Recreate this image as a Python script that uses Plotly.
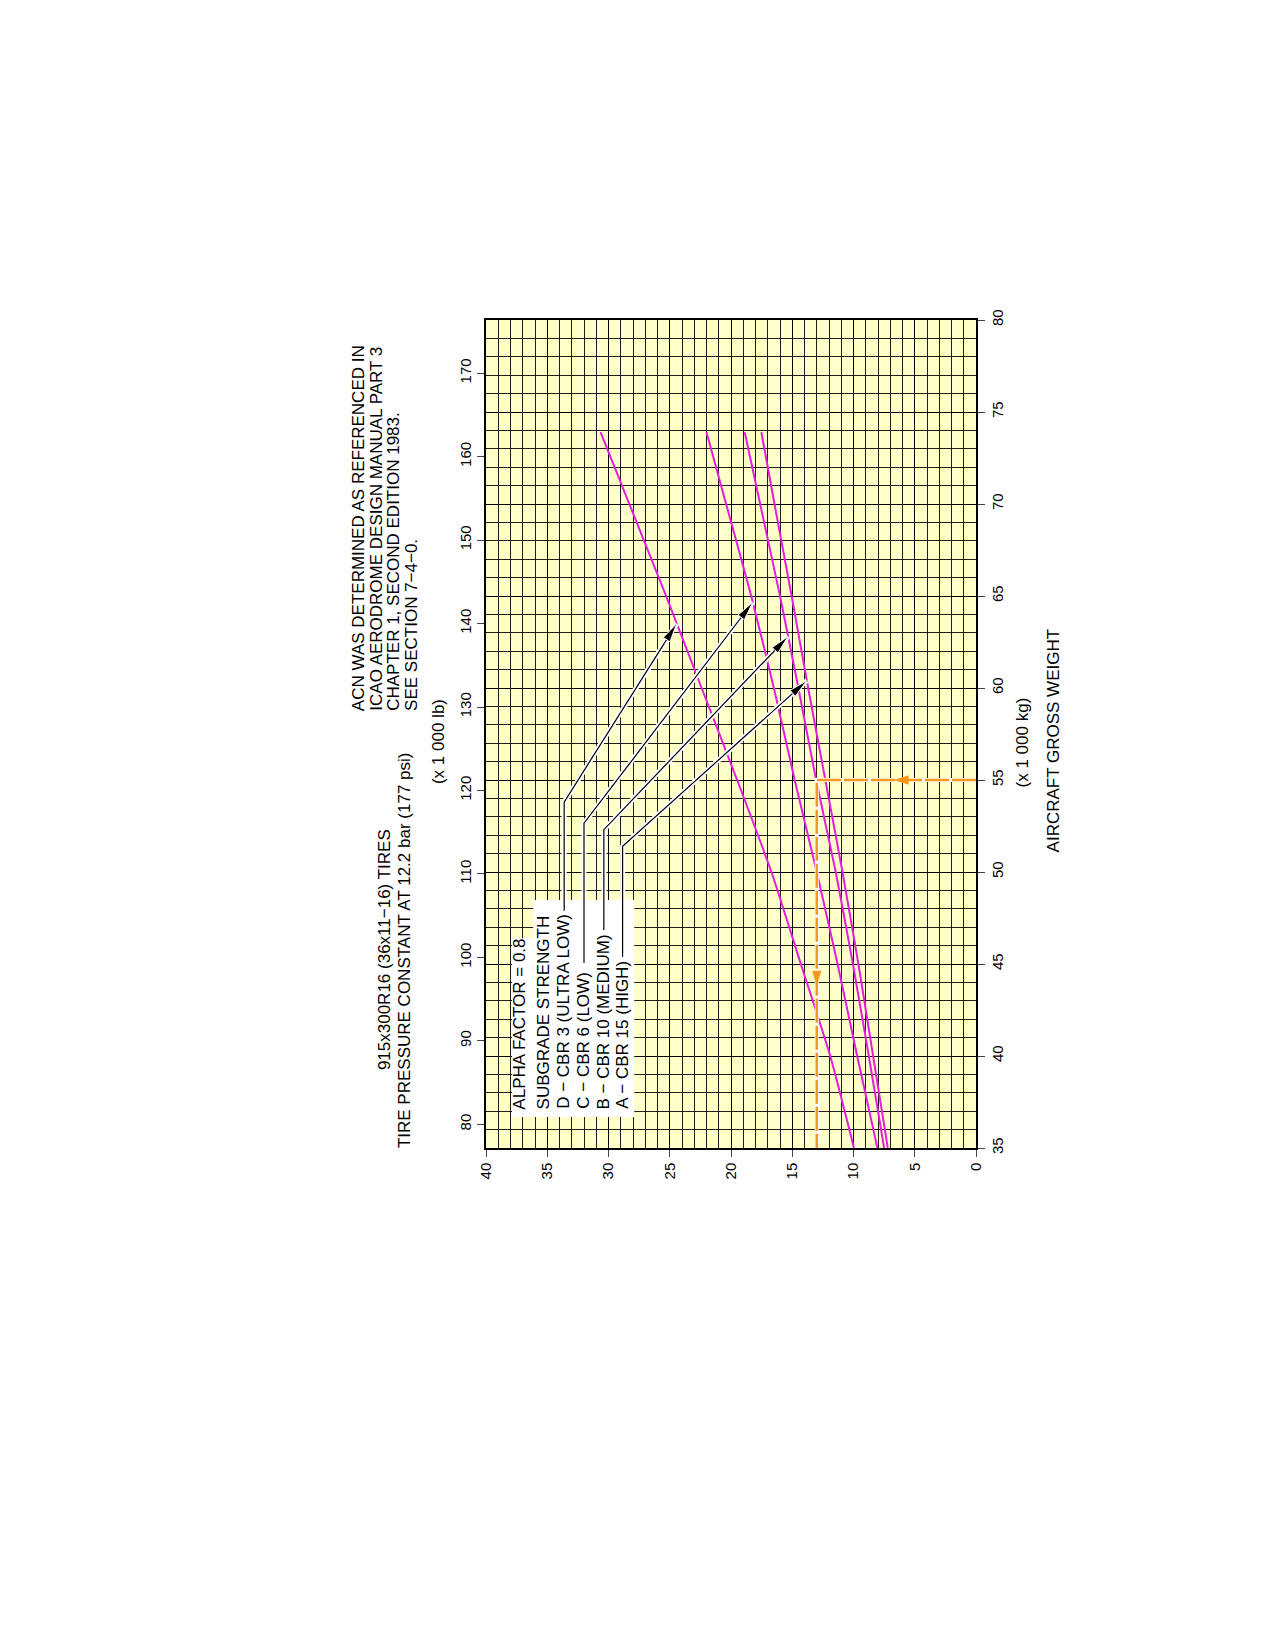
import math
import numpy as np
import plotly.graph_objects as go

# ACN vs aircraft gross weight (x 1 000 kg)
weight_kg = [35, 40, 45, 50, 55, 60, 65, 70, 73.9]
acn_d = [9.96, 11.9, 14.3, 16.7, 19.5, 22.4, 25.3, 28.3, 30.65]
acn_c = [8.05, 9.7, 11.3, 13.0, 14.8, 16.5, 18.35, 20.4, 22.0]
acn_b = [7.5, 8.75, 10.05, 11.45, 13.05, 14.5, 16.0, 17.62, 18.88]
acn_a = [7.2, 8.4, 9.6, 10.9, 12.3, 13.7, 15.05, 16.45, 17.52]

# worked example: 55 000 kg -> ACN 13
example_kg = [55, 55, 35]
example_acn = [0, 13, 13]

acn_ticks = list(range(0, 41, 5))
kg_ticks = list(range(35, 81, 5))
lb_ticks = list(range(80, 171, 10))
KG_TO_LB = 2.20462

legend_lines = ["ALPHA FACTOR = 0.8", "SUBGRADE STRENGTH",
                "D \u2212 CBR 3 (ULTRA LOW)", "C \u2212 CBR 6 (LOW)",
                "B \u2212 CBR 10 (MEDIUM)", "A \u2212 CBR 15 (HIGH)"]
note_lines = ["ACN WAS DETERMINED AS REFERENCED IN",
              "ICAO AERODROME DESIGN MANUAL PART 3",
              "CHAPTER 1, SECOND EDITION 1983.",
              "SEE SECTION 7\u22124\u22120."]
tire_lines = ["915x300R16 (36x11\u221216) TIRES",
              "TIRE PRESSURE CONSTANT AT 12.2 bar (177 psi)"]

# where each leader starts (end of its label), bends, and meets its curve (kg)
leader_start = [47.9, 45.05, 46.85, 45.4]
leader_bend = [53.8, 52.65, 52.3, 51.4]
leader_tip = [63.5, 64.66, 62.8, 60.4]

#%% geometry
L0, T0, PW, PH = 486, 320, 490.5, 828
BODY = 8   # page margin of the browser
PX_A = PW / 40
PX_W = PH / 45
MAGENTA = "#E41EE0"
ORANGE = "#F7981D"
FONT = "Liberation Sans, Arial, Helvetica, sans-serif"
TXT = 17


def paper(x, y):
    return (x - L0) / PW, (T0 + PH - y) / PH


def arrowhead(tip, tail, length, width, color, edge="white"):
    tx, ty = -tip[0] * PX_A, -tip[1] * PX_W
    fx, fy = -tail[0] * PX_A, -tail[1] * PX_W
    dx, dy = tx - fx, ty - fy
    n = math.hypot(dx, dy)
    ux, uy = dx / n, dy / n
    bx, by = tx - ux * length, ty - uy * length
    pts = [(tx, ty), (bx - uy * width / 2, by + ux * width / 2),
           (bx + uy * width / 2, by - ux * width / 2)]
    path = "M " + " L ".join(f"{-x / PX_A:.4f},{-y / PX_W:.4f}" for x, y in pts) + " Z"
    return dict(type="path", path=path, xref="x", yref="y", fillcolor=color,
                line=dict(color=edge, width=1), layer="above")


fig = go.Figure()

for acn in [acn_d, acn_c, acn_b, acn_a]:
    fig.add_trace(go.Scatter(x=acn, y=weight_kg, mode="lines",
                             line=dict(color=MAGENTA, width=2, shape="spline", smoothing=0.6),
                             hoverinfo="skip"))

fig.add_trace(go.Scatter(x=example_acn, y=example_kg, mode="lines",
                         line=dict(color="white", width=4), hoverinfo="skip"))
fig.add_trace(go.Scatter(x=example_acn, y=example_kg, mode="lines",
                         line=dict(color=ORANGE, width=2.5, dash="24px,3px"), hoverinfo="skip"))

# dummy trace so the lb axis is drawn
fig.add_trace(go.Scatter(x=[20], y=[lb_ticks[0]], yaxis="y2", mode="markers",
                         marker=dict(opacity=0), hoverinfo="skip"))

#%% legend box, leaders and arrows
shapes = []
shapes.append(dict(type="rect", xref="x", yref="y", x0=36.15, x1=27.9, y0=36.68, y1=48.48,
                   fillcolor="white", line=dict(width=0), layer="above"))
shapes.append(dict(type="rect", xref="x", yref="y", x0=37.88, x1=36.1, y0=36.68, y1=46.4,
                   fillcolor="white", line=dict(width=0), layer="above"))

text_acn = [37.23, 35.33, 33.62, 32.0, 30.38, 28.85]
curves = [acn_d, acn_c, acn_b, acn_a]
paths = []
heads = []
for i, acn in enumerate(curves):
    a0 = text_acn[i + 2]
    tip_acn = float(np.interp(leader_tip[i], weight_kg, acn))
    p = f"M {a0},{leader_start[i]} L {a0},{leader_bend[i]} L {tip_acn},{leader_tip[i]}"
    paths.append(p)
    heads.append(arrowhead((tip_acn, leader_tip[i]), (a0, leader_bend[i]), 19, 8, "black"))

for p in paths:
    shapes.append(dict(type="path", path=p, xref="x", yref="y",
                       line=dict(color="white", width=5), layer="above"))
for p in paths:
    shapes.append(dict(type="path", path=p, xref="x", yref="y",
                       line=dict(color="black", width=1.2), layer="above"))
shapes += heads

# orange example arrows
shapes.append(arrowhead((6.6, 55), (5.0, 55), 13, 8, ORANGE, edge=ORANGE))
shapes.append(arrowhead((13, 43.9), (13, 46), 13, 8, ORANGE, edge=ORANGE))

#%% text
annotations = []
for i, t in enumerate(legend_lines):
    annotations.append(dict(text=t, x=text_acn[i], y=37.0, xref="x", yref="y",
                            xanchor="center", yanchor="bottom", textangle=-90,
                            showarrow=False, font=dict(size=TXT)))

for i, t in enumerate(note_lines):
    x, y = paper(358 + 17.6 * i, 713)
    annotations.append(dict(text=t, x=x, y=y, xref="paper", yref="paper",
                            xanchor="center", yanchor="bottom", textangle=-90,
                            showarrow=False, font=dict(size=TXT)))

for i, t in enumerate(tire_lines):
    x, y = paper(384 + 20 * i, 950)
    annotations.append(dict(text=t, x=x, y=y, xref="paper", yref="paper",
                            xanchor="center", yanchor="middle", textangle=-90,
                            showarrow=False, font=dict(size=TXT)))

for t, px, py in [("(x 1 000 lb)", 438, 742), ("(x 1 000 kg)", 1023, 742),
                  ("AIRCRAFT GROSS WEIGHT", 1054, 740)]:
    x, y = paper(px, py)
    annotations.append(dict(text=t, x=x, y=y, xref="paper", yref="paper",
                            xanchor="center", yanchor="middle", textangle=-90,
                            showarrow=False, font=dict(size=TXT)))

grid = "rgba(0,0,0,0.88)"
fig.update_layout(
    width=1275, height=1645,
    margin=dict(l=L0 - BODY, r=1275 - L0 - PW + BODY, t=T0 - BODY, b=1645 - T0 - PH + BODY),
    plot_bgcolor="#FFFFC8", paper_bgcolor="white",
    showlegend=False,
    font=dict(family=FONT, size=15, color="black"),
    xaxis=dict(range=[40, 0], tickmode="array", tickvals=acn_ticks,
               ticks="outside", ticklen=7, tickangle=-90, tickwidth=1,
               showgrid=True, gridcolor=grid, gridwidth=1, zeroline=False,
               minor=dict(dtick=1, tick0=0, showgrid=True, gridcolor=grid, gridwidth=1),
               showline=True, mirror=True, linecolor="black", linewidth=1.5),
    yaxis=dict(range=[35, 80], side="right", tickmode="array", tickvals=kg_ticks,
               ticks="outside", ticklen=7, tickangle=-90, tickwidth=1,
               showgrid=True, gridcolor=grid, gridwidth=1, zeroline=False,
               minor=dict(dtick=1, tick0=0, showgrid=True, gridcolor=grid, gridwidth=1),
               showline=True, mirror=True, linecolor="black", linewidth=1.5),
    yaxis2=dict(range=[35 * KG_TO_LB, 80 * KG_TO_LB], overlaying="y", side="left",
                tickmode="array", tickvals=lb_ticks, ticks="outside", ticklen=7,
                tickangle=-90, tickwidth=1, showgrid=False, zeroline=False,
                showline=True, linecolor="black", linewidth=1.5),
    shapes=shapes,
    annotations=annotations,
)

fig.write_html("out.html")
